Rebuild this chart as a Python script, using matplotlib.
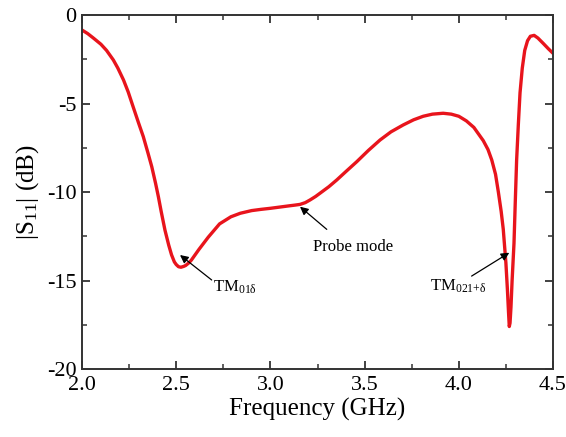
import matplotlib
matplotlib.use("Agg")
import matplotlib.pyplot as plt
from matplotlib.ticker import MultipleLocator

freq = [2.00, 2.03, 2.06, 2.10, 2.13, 2.166, 2.19, 2.22, 2.245, 2.27, 2.30, 2.325, 2.35,
        2.37, 2.39, 2.405, 2.42, 2.44, 2.46, 2.475, 2.49, 2.50, 2.512, 2.525, 2.54,
        2.55, 2.565, 2.58, 2.60, 2.62, 2.645, 2.67, 2.69, 2.71, 2.73, 2.76, 2.79,
        2.84, 2.90, 2.95, 3.00, 3.05, 3.10, 3.13, 3.157, 3.185, 3.21, 3.24, 3.263,
        3.31, 3.352, 3.40, 3.458, 3.52, 3.582, 3.64, 3.705, 3.76, 3.811, 3.86, 3.917,
        3.96, 4.00, 4.04, 4.08, 4.11, 4.13, 4.155, 4.175, 4.195, 4.21, 4.225, 4.236,
        4.25, 4.258, 4.264, 4.268, 4.272, 4.277, 4.283, 4.293, 4.30, 4.307, 4.316,
        4.325, 4.337, 4.35, 4.365, 4.38, 4.40, 4.42, 4.448, 4.475, 4.50]
s11 = [-0.85, -1.05, -1.3, -1.65, -2.0, -2.54, -3.0, -3.67, -4.35, -5.15, -6.1, -6.87, -7.8,
       -8.57, -9.5, -10.26, -11.1, -12.15, -13.0, -13.55, -13.95, -14.1, -14.22, -14.25, -14.2,
       -14.15, -14.02, -13.85, -13.55, -13.25, -12.9, -12.55, -12.3, -12.05, -11.8, -11.6, -11.4,
       -11.2, -11.05, -10.98, -10.92, -10.85, -10.78, -10.74, -10.7, -10.6, -10.45, -10.25, -10.07,
       -9.7, -9.32, -8.85, -8.29, -7.65, -7.06, -6.6, -6.21, -5.92, -5.72, -5.6, -5.55,
       -5.6, -5.72, -5.98, -6.35, -6.8, -7.1, -7.6, -8.19, -9.0, -10.0, -11.1, -12.1,
       -14.0, -15.5, -16.8, -17.6, -17.4, -16.5, -15.0, -12.9, -10.5, -8.2, -6.2,
       -4.4, -3.0, -2.0, -1.45, -1.2, -1.15, -1.3, -1.6, -1.9, -2.16]

xticks = [2.0, 2.5, 3.0, 3.5, 4.0, 4.5]
yticks = [0, -5, -10, -15, -20]

plt.rcParams['font.family'] = ['Liberation Serif', 'DejaVu Serif']
plt.rcParams['mathtext.fontset'] = 'stix'

fig = plt.figure(figsize=(5.66, 4.37), dpi=100)
ax = fig.add_axes([0.145, 0.1556, 0.832, 0.81])
ax.plot(freq, s11, color='#e8141c', lw=2.4, solid_joinstyle='round', solid_capstyle='round')
ax.set_xlim(2.0, 4.5)
ax.set_ylim(-20, 0)
ax.set_xticks(xticks)
ax.set_yticks(yticks)
ax.set_xticklabels(['%.1f' % t for t in xticks])
ax.set_yticklabels(['%d' % t for t in yticks])
ax.xaxis.set_minor_locator(MultipleLocator(0.25))
ax.yaxis.set_minor_locator(MultipleLocator(2.5))
ax.tick_params(which='both', direction='in', top=True, right=True, color='#333333')
ax.tick_params(which='major', length=6, width=1.3, labelsize=16)
ax.tick_params(which='minor', length=3.5, width=1.1)
ax.tick_params(axis='x', which='major', pad=5)
ax.tick_params(axis='y', which='major', pad=4)
for sp in ax.spines.values():
    sp.set_linewidth(1.4)
    sp.set_color('#333333')
ax.set_xlabel('Frequency (GHz)', fontsize=18, labelpad=2)
ax.set_ylabel('|S$_{\\mathregular{11}}$| (dB)', fontsize=18, labelpad=4)

arrow = dict(arrowstyle='-|>', color='black', lw=0.9, mutation_scale=12, shrinkA=0, shrinkB=0)
ax.annotate('', xy=(2.52, -13.56), xytext=(2.688, -14.97), arrowprops=arrow)
ax.text(2.695, -15.4, 'TM$_{\\mathregular{01δ}}$', fontsize=12, va='center', ha='left')
ax.annotate('', xy=(3.157, -10.83), xytext=(3.299, -12.11), arrowprops=arrow)
ax.text(3.224, -13.1, 'Probe mode', fontsize=12, va='center', ha='left')
ax.annotate('', xy=(4.268, -13.43), xytext=(4.068, -14.75), arrowprops=arrow)
ax.text(3.847, -15.3, 'TM$_{\\mathregular{021{+}δ}}$', fontsize=12, va='center', ha='left')

fig.savefig('out.png', dpi=100)
